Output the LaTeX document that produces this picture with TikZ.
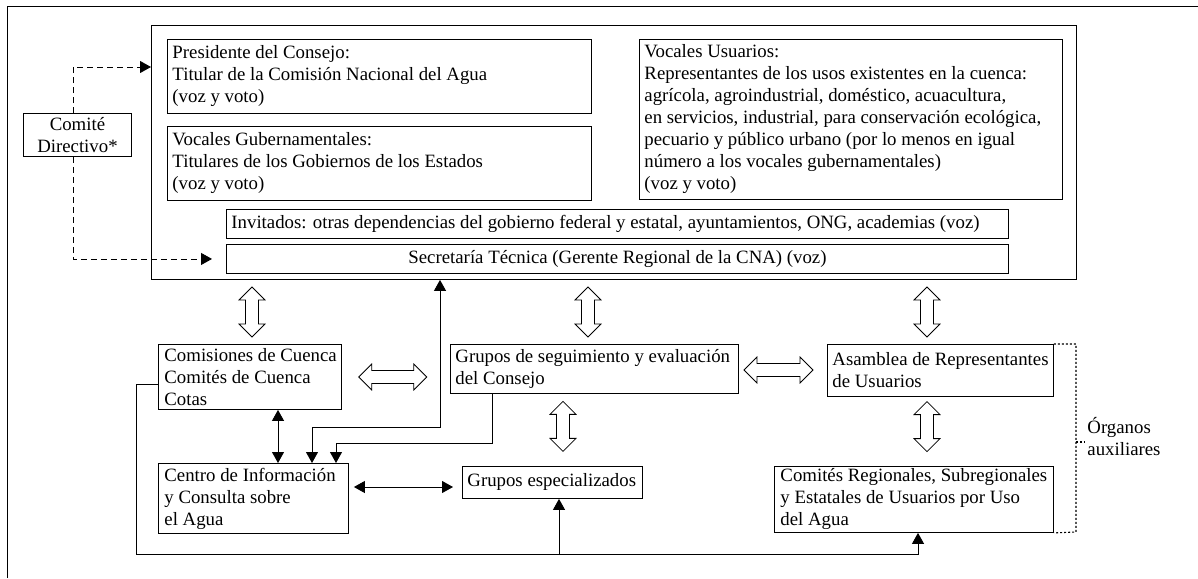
\documentclass[tikz,border=0pt]{standalone}
\usepackage{fontspec}
\setmainfont{Liberation Serif}
\usetikzlibrary{arrows.meta,calc}

\tikzset{
	caja/.style={draw, anchor=north west, inner sep=0pt},
	txt/.style={anchor=west, align=left, inner xsep=5pt, inner ysep=0pt},
	flecha/.style={-{Triangle[length=11pt,width=12pt]}},
	dflecha/.style={{Triangle[length=11pt,width=12pt]}-{Triangle[length=11pt,width=12pt]}},
	pics/hueca/.style={code={
		\draw[line width=0.8pt] (0,-#1) -- (13,{-#1+13}) -- (6.5,{-#1+13}) -- (6.5,{#1-13}) -- (13,{#1-13})
			-- (0,#1) -- (-13,{#1-13}) -- (-6.5,{#1-13}) -- (-6.5,{-#1+13}) -- (-13,{-#1+13}) -- cycle;
	}},
}

\begin{document}
\begin{tikzpicture}[x=1pt,y=-1pt,line width=0.9pt,font=\fontsize{18.8}{22}\selectfont]
	\useasboundingbox (0,0) rectangle (1198,578);
	\draw (7,578) -- (7,6) -- (1198,6);
	% consejo de cuenca
	\node[caja, minimum width=925pt, minimum height=254pt] (consejo) at (151,25) {};
	\node[caja, minimum width=424pt, minimum height=74pt,
		label={[txt]west:{Presidente del Consejo:\\Titular de la Comisión Nacional del Agua\\(voz y voto)}}] (pres) at (167,39) {};
	\node[caja, minimum width=424pt, minimum height=74pt,
		label={[txt]west:{Vocales Gubernamentales:\\Titulares de los Gobiernos de los Estados\\(voz y voto)}}] (gob) at (167,126) {};
	\node[caja, minimum width=423pt, minimum height=160pt,
		label={[txt]west:{Vocales Usuarios:\\Representantes de los usos existentes en la cuenca:\\agrícola, agroindustrial, doméstico, acuacultura,\\en servicios, industrial, para conservación ecológica,\\pecuario y público urbano (por lo menos en igual\\número a los vocales gubernamentales)\\(voz y voto)}}] (usu) at (639,39) {};
	\node[caja, minimum width=782pt, minimum height=29pt,
		label={[txt]west:{Invitados: otras dependencias del gobierno federal y estatal, ayuntamientos, ONG, academias (voz)}}] (inv) at (226,209) {};
	\node[caja, minimum width=782pt, minimum height=29pt] (sec) at (226,244)
		{Secretaría Técnica (Gerente Regional de la CNA) (voz)};
	\node[caja, align=center, minimum width=108pt, minimum height=43pt] (dir) at (23,113)
		{Comité\\Directivo*};
	% organos
	\node[caja, minimum width=183pt, minimum height=65pt,
		label={[txt, inner xsep=6pt]west:{Comisiones de Cuenca\\Comités de Cuenca\\Cotas}}] (comis) at (158,344) {};
	\node[caja, minimum width=190pt, minimum height=70pt,
		label={[txt, inner xsep=6pt]west:{Centro de Información\\y Consulta sobre\\el Agua}}] (centro) at (158,463) {};
	\node[caja, minimum width=288pt, minimum height=49pt,
		label={[txt]west:{Grupos de seguimiento y evaluación\\del Consejo}}] (seg) at (450,344) {};
	\node[caja, minimum width=180pt, minimum height=32pt,
		label={[txt]west:{Grupos especializados}}] (esp) at (462,466) {};
	\node[caja, minimum width=226pt, minimum height=52pt,
		label={[txt]west:{Asamblea de Representantes\\de Usuarios}}] (asam) at (827,344) {};
	\node[caja, minimum width=279pt, minimum height=66pt,
		label={[txt, inner xsep=6pt]west:{Comités Regionales, Subregionales\\y Estatales de Usuarios por Uso\\del Agua}}] (reg) at (774,466) {};
	\node[anchor=west, align=left, inner sep=0pt] (aux) at (1087,437) {Órganos\\auxiliares};
	% flechas huecas
	\pic at ($(consejo.south -| 252,0)!0.5!(comis.north -| 252,0)$) {hueca=25};
	\pic at ($(consejo.south -| 588,0)!0.5!(seg.north -| 588,0)$) {hueca=25};
	\pic at ($(consejo.south -| 927,0)!0.5!(asam.north -| 927,0)$) {hueca=25};
	\pic at ($(seg.south -| 563,0)!0.45!(esp.north -| 563,0)$) {hueca=25};
	\pic at ($(asam.south -| 927,0)!0.43!(reg.north -| 927,0)$) {hueca=25};
	\pic[rotate=90] at ($(comis.east |- 0,377)!0.47!(seg.west |- 0,377)$) {hueca=34};
	\pic[rotate=90] at ($(seg.east |- 0,370)!0.45!(asam.west |- 0,370)$) {hueca=34.5};
	% comite directivo
	\draw[flecha, dash pattern=on 6pt off 4pt] (dir.north -| 73,0) |- (consejo.west |- 0,67);
	\draw[flecha, dash pattern=on 6pt off 4pt, shorten >=14pt] (dir.south -| 73,0) |- (sec.west);
	% flujos de informacion
	\draw[dflecha] (comis.south -| 278,0) -- (centro.north -| 278,0);
	\draw[dflecha] (centro.north -| 312,0) |- (440,427) -- (consejo.south -| 440,0);
	\draw[flecha] (seg.south -| 492,0) |- (336,443) -- (centro.north -| 336,0);
	\draw[dflecha, shorten <=5pt, shorten >=9pt] (centro.east |- 0,487) -- (esp.west |- 0,487);
	\coordinate (ramal) at (559,554);
	\draw[flecha] (comis.west |- 0,384) -- (136,384) |- (918,554) -- (reg.south -| 918,0);
	\draw[flecha] (ramal) -- (esp.south -| ramal);
	% organos auxiliares
	\draw[dash pattern=on 2pt off 2pt, line width=1.1pt] (asam.north east) -- (1076,344) -- (1076,532) -- (reg.south east);
	\draw[dash pattern=on 2pt off 2pt, line width=1.1pt] (1076,442) -- (1085,442);
\end{tikzpicture}
\end{document}
